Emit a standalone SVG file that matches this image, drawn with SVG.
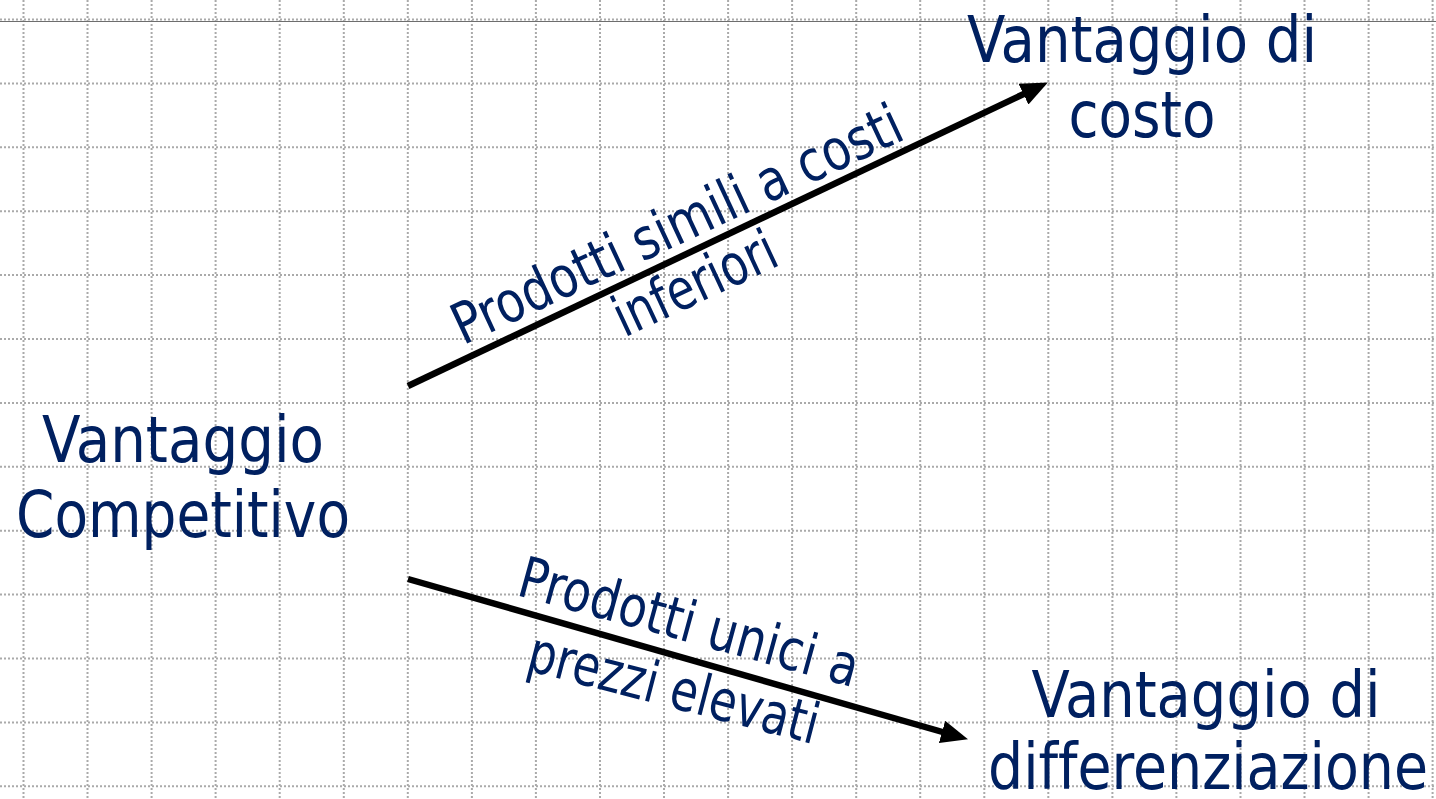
<svg xmlns="http://www.w3.org/2000/svg" width="1436" height="799" viewBox="0 0 1436 799">
  <style>
    .grid line { stroke: #aaaaaa; stroke-width: 2; stroke-dasharray: 2 2; }
    .node text { font-family: "DejaVu Sans Condensed", "DejaVu Sans", "Liberation Sans", sans-serif; fill: #002060; font-size: 64px; text-anchor: middle; font-variant-ligatures: none; }
    .lbl { font-family: "DejaVu Sans Condensed", "DejaVu Sans", "Liberation Sans", sans-serif; fill: #002060; font-size: 57px; text-anchor: middle; font-variant-ligatures: none; }
    .conn line { stroke: #000; stroke-width: 6.5; }
  </style>
  <defs>
    <marker id="ah" viewBox="0 0 27 23" refX="6" refY="11.5" markerWidth="27" markerHeight="23" markerUnits="userSpaceOnUse" orient="auto">
      <path d="M0,0 L27,11.5 L0,23 Z" fill="#000"/>
    </marker>
  </defs>
  <rect width="1436" height="799" fill="#fff"/>
  <g class="grid" id="grid">
    <line x1="23.5" y1="0" x2="23.5" y2="799"/>
    <line x1="87.5" y1="0" x2="87.5" y2="799"/>
    <line x1="151.6" y1="0" x2="151.6" y2="799"/>
    <line x1="215.6" y1="0" x2="215.6" y2="799"/>
    <line x1="279.7" y1="0" x2="279.7" y2="799"/>
    <line x1="343.8" y1="0" x2="343.8" y2="799"/>
    <line x1="407.8" y1="0" x2="407.8" y2="799"/>
    <line x1="471.9" y1="0" x2="471.9" y2="799"/>
    <line x1="535.9" y1="0" x2="535.9" y2="799"/>
    <line x1="600" y1="0" x2="600" y2="799"/>
    <line x1="664" y1="0" x2="664" y2="799"/>
    <line x1="728.1" y1="0" x2="728.1" y2="799"/>
    <line x1="792.1" y1="0" x2="792.1" y2="799"/>
    <line x1="856.2" y1="0" x2="856.2" y2="799"/>
    <line x1="920.2" y1="0" x2="920.2" y2="799"/>
    <line x1="984.3" y1="0" x2="984.3" y2="799"/>
    <line x1="1048.3" y1="0" x2="1048.3" y2="799"/>
    <line x1="1112.4" y1="0" x2="1112.4" y2="799"/>
    <line x1="1176.4" y1="0" x2="1176.4" y2="799"/>
    <line x1="1240.5" y1="0" x2="1240.5" y2="799"/>
    <line x1="1304.5" y1="0" x2="1304.5" y2="799"/>
    <line x1="1368.6" y1="0" x2="1368.6" y2="799"/>
    <line x1="1432.6" y1="0" x2="1432.6" y2="799"/>
    <line x1="0" y1="19.5" x2="1436" y2="19.5"/>
    <line x1="0" y1="83.4" x2="1436" y2="83.4"/>
    <line x1="0" y1="147.3" x2="1436" y2="147.3"/>
    <line x1="0" y1="211.2" x2="1436" y2="211.2"/>
    <line x1="0" y1="275.1" x2="1436" y2="275.1"/>
    <line x1="0" y1="339" x2="1436" y2="339"/>
    <line x1="0" y1="402.9" x2="1436" y2="402.9"/>
    <line x1="0" y1="466.8" x2="1436" y2="466.8"/>
    <line x1="0" y1="530.7" x2="1436" y2="530.7"/>
    <line x1="0" y1="594.6" x2="1436" y2="594.6"/>
    <line x1="0" y1="658.5" x2="1436" y2="658.5"/>
    <line x1="0" y1="722.4" x2="1436" y2="722.4"/>
    <line x1="0" y1="786.3" x2="1436" y2="786.3"/>
    <line x1="0" y1="21.5" x2="1436" y2="21.5" style="stroke:#6e6e6e;stroke-width:1.2;stroke-dasharray:none"/>
  </g>
  <g class="conn" id="connectors">
    <line x1="408" y1="386" x2="1028.9" y2="91.6" marker-end="url(#ah)"/>
    <line x1="408" y1="579" x2="947.8" y2="733.5" marker-end="url(#ah)"/>
    <text class="lbl" transform="translate(685,242) rotate(-25)" textLength="490" lengthAdjust="spacingAndGlyphs">Prodotti simili a costi</text>
    <text class="lbl" transform="translate(703,301) rotate(-25)" textLength="174" lengthAdjust="spacingAndGlyphs">inferiori</text>
    <text class="lbl" transform="translate(684,641) rotate(15.3)" textLength="350" lengthAdjust="spacingAndGlyphs">Prodotti unici a</text>
    <text class="lbl" transform="translate(669,707) rotate(14.5)" textLength="298" lengthAdjust="spacingAndGlyphs">prezzi elevati</text>
  </g>
  <g class="node" id="node-competitivo">
    <text x="183" y="462" textLength="282" lengthAdjust="spacingAndGlyphs">Vantaggio</text>
    <text x="183" y="537" textLength="334" lengthAdjust="spacingAndGlyphs">Competitivo</text>
  </g>
  <g class="node" id="node-costo">
    <text x="1142" y="62" textLength="350" lengthAdjust="spacingAndGlyphs">Vantaggio di</text>
    <text x="1142" y="137" textLength="147" lengthAdjust="spacingAndGlyphs">costo</text>
  </g>
  <g class="node" id="node-differenziazione">
    <text x="1206" y="717" textLength="349" lengthAdjust="spacingAndGlyphs">Vantaggio di</text>
    <text x="1208" y="789" textLength="440" lengthAdjust="spacingAndGlyphs">differenziazione</text>
  </g>
</svg>
